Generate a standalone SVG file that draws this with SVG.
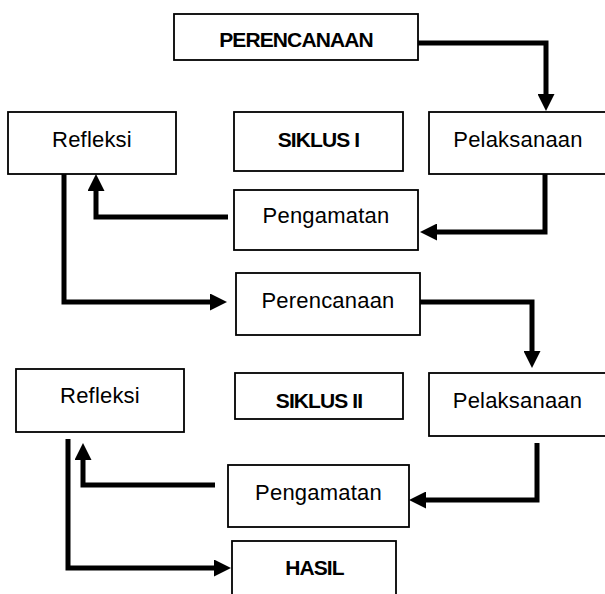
<svg xmlns="http://www.w3.org/2000/svg" width="605" height="594" viewBox="0 0 605 594">
<style>
.box{fill:#fff;stroke:#000;stroke-width:1.8}
.t{font-family:"Liberation Sans",Arial,sans-serif;font-size:22px;fill:#000;text-anchor:middle;letter-spacing:0.2px}
.b{font-family:"Liberation Sans",Arial,sans-serif;font-size:21px;font-weight:bold;fill:#000;text-anchor:middle;letter-spacing:-0.9px}
.c{fill:none;stroke:#000;stroke-width:5;stroke-linejoin:miter;stroke-linecap:butt}
</style>
<defs>
<marker id="ah" markerUnits="userSpaceOnUse" markerWidth="17" markerHeight="17" refX="0" refY="8.5" orient="auto">
<path d="M0,0 L17,8.5 L0,17 z" fill="#000"/>
</marker>
</defs>
<rect width="605" height="594" fill="#fff"/>
<g id="connectors">
<path class="c" d="M418,43 H546 V94" marker-end="url(#ah)"/>
<path class="c" d="M545,173 V232 H437" marker-end="url(#ah)"/>
<path class="c" d="M228,217 H96 V191" marker-end="url(#ah)"/>
<path class="c" d="M64,172 V302 H210" marker-end="url(#ah)"/>
<path class="c" d="M420,302 H532 V351" marker-end="url(#ah)"/>
<path class="c" d="M537,443 V500 H426" marker-end="url(#ah)"/>
<path class="c" d="M215,485 H83 V460" marker-end="url(#ah)"/>
<path class="c" d="M68,439 V568 H214" marker-end="url(#ah)"/>
</g>
<g id="perencanaan1"><rect class="box" x="174" y="14" width="244" height="46"/><text class="b" x="296" y="47">PERENCANAAN</text></g>
<g id="siklus1"><rect class="box" x="234" y="112" width="169" height="59"/><text class="b" x="318.5" y="147">SIKLUS I</text></g>
<g id="pelaksanaan1"><rect class="box" x="429" y="112" width="180" height="62"/><text class="t" x="518" y="147">Pelaksanaan</text></g>
<g id="refleksi1"><rect class="box" x="8" y="112" width="168" height="62"/><text class="t" x="92" y="147">Refleksi</text></g>
<g id="pengamatan1"><rect class="box" x="234" y="190" width="184" height="60"/><text class="t" x="326" y="223">Pengamatan</text></g>
<g id="perencanaan2"><rect class="box" x="236" y="273" width="184" height="62"/><text class="t" x="328" y="308">Perencanaan</text></g>
<g id="siklus2"><rect class="box" x="235" y="373" width="168" height="46"/><text class="b" x="319" y="408">SIKLUS II</text></g>
<g id="pelaksanaan2"><rect class="box" x="429" y="373" width="180" height="63"/><text class="t" x="517.5" y="408">Pelaksanaan</text></g>
<g id="refleksi2"><rect class="box" x="16" y="369" width="168" height="63"/><text class="t" x="100" y="403">Refleksi</text></g>
<g id="pengamatan2"><rect class="box" x="228" y="465" width="181" height="62"/><text class="t" x="318.5" y="500">Pengamatan</text></g>
<g id="hasil"><rect class="box" x="232" y="541" width="164" height="70"/><text class="b" x="314.5" y="575">HASIL</text></g>
</svg>
